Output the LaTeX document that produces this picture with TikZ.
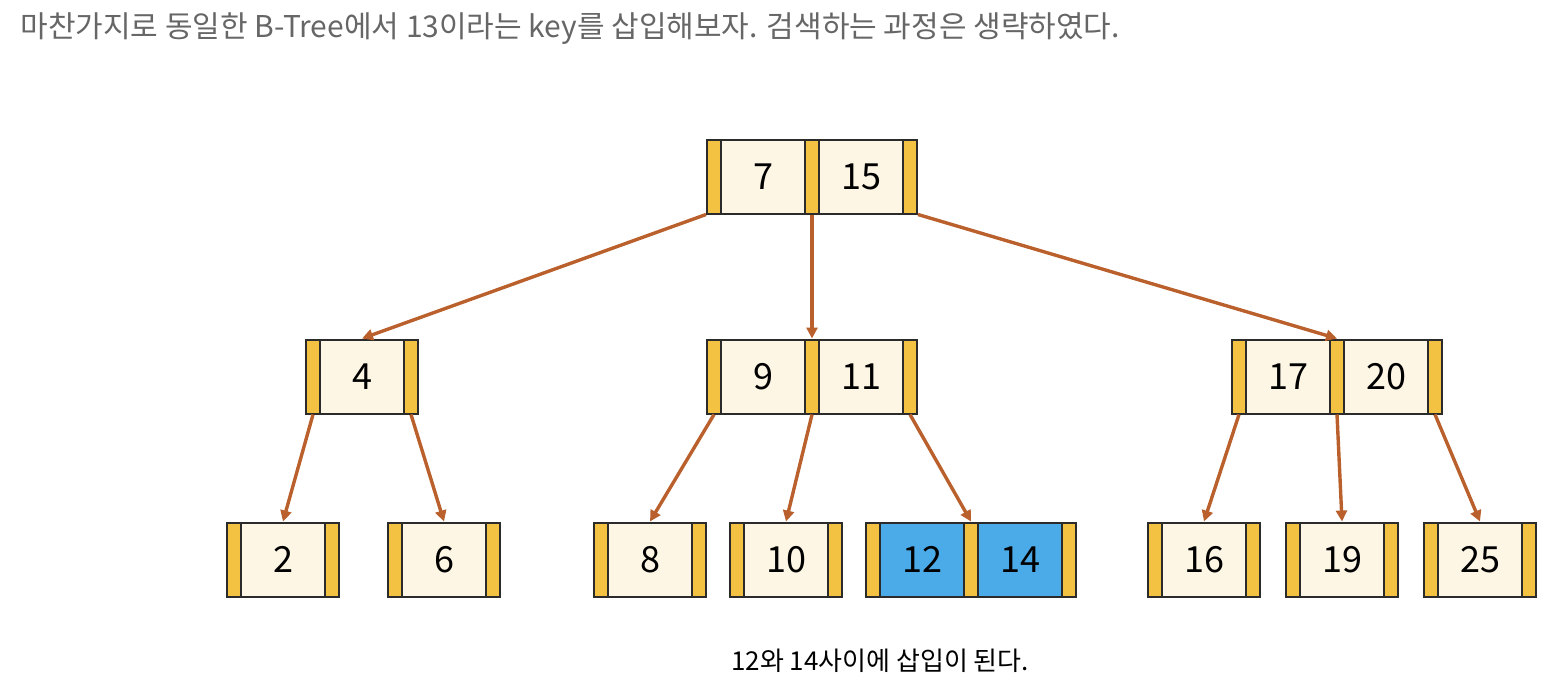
\documentclass[tikz,border=0pt]{standalone}
\usepackage{fontspec}
\setmainfont{Noto Sans CJK KR}
\usetikzlibrary{arrows.meta}
\definecolor{barc}{HTML}{F4C242}
\definecolor{cellc}{HTML}{FEF6E4}
\definecolor{bluec}{HTML}{4BABE8}
\definecolor{arrc}{HTML}{BA602C}
\definecolor{edgec}{HTML}{2B2B2B}
\definecolor{titlec}{HTML}{666666}
\tikzset{
  barbox/.style={draw=edgec, fill=barc, line width=1pt, minimum width=7pt, minimum height=37pt, inner sep=0pt},
  keybox/.style={draw=edgec, fill=cellc, line width=1pt, minimum width=42pt, minimum height=37pt, inner sep=0pt, font=\fontsize{18}{20}\selectfont},
  arr/.style={draw=arrc, line width=1.7pt, -{Triangle[length=5.5pt,width=5.5pt]}},
}
\newcommand\onekey[4]{%
  \node[barbox] (#1L) at (#2+7,#3) {};
  \node[keybox] (#1a) at (#2+56,#3) {#4};
  \node[barbox] (#1R) at (#2+105,#3) {};
}
\newcommand\twokey[6]{%
  \node[barbox] (#1L) at (#2+7,#3) {};
  \node[keybox,fill=#6] (#1a) at (#2+56,#3) {#4};
  \node[barbox] (#1M) at (#2+105,#3) {};
  \node[keybox,fill=#6] (#1b) at (#2+154,#3) {#5};
  \node[barbox] (#1R) at (#2+203,#3) {};
}
\begin{document}
\begin{tikzpicture}[x=0.5pt,y=-0.5pt]
\useasboundingbox (0,0) rectangle (1556,686);
\node[anchor=west, text=titlec, font=\fontsize{15}{17}\selectfont, inner sep=0pt] (title) at (20,29) {마찬가지로 동일한 B-Tree에서 13이라는 key를 삽입해보자. 검색하는 과정은 생략하였다.};
% root
\twokey{r}{707}{176.5}{7}{15}{cellc}
% level 2
\onekey{n4}{306}{376.5}{4}
\twokey{n9}{707}{376.5}{9}{11}{cellc}
\twokey{n17}{1232}{376.5}{17}{20}{cellc}
% leaves
\onekey{l2}{227}{559.5}{2}
\onekey{l6}{388}{559.5}{6}
\onekey{l8}{594}{559.5}{8}
\onekey{l10}{730}{559.5}{10}
\twokey{l12}{866}{559.5}{12}{14}{bluec}
\onekey{l16}{1148}{559.5}{16}
\onekey{l19}{1286}{559.5}{19}
\onekey{l25}{1424}{559.5}{25}
% connectors
\draw[arr] (rL.south west) -- (n4a.north);
\draw[arr] (rM.south) -- (n9M.north);
\draw[arr] (rR.south east) -- (n17M.north);
\draw[arr] (n4L.south) -- (l2a.north);
\draw[arr] (n4R.south) -- (l6a.north);
\draw[arr] (n9L.south) -- (l8a.north);
\draw[arr] (n9M.south) -- (l10a.north);
\draw[arr] (n9R.south) -- (l12M.north);
\draw[arr] (n17L.south) -- (l16a.north);
\draw[arr] (n17M.south) -- (l19a.north);
\draw[arr] (n17R.south) -- (l25a.north);
\node[font=\fontsize{13}{15}\selectfont, inner sep=0pt] (cap) at (880,661) {12와 14사이에 삽입이 된다.};
\end{tikzpicture}
\end{document}
